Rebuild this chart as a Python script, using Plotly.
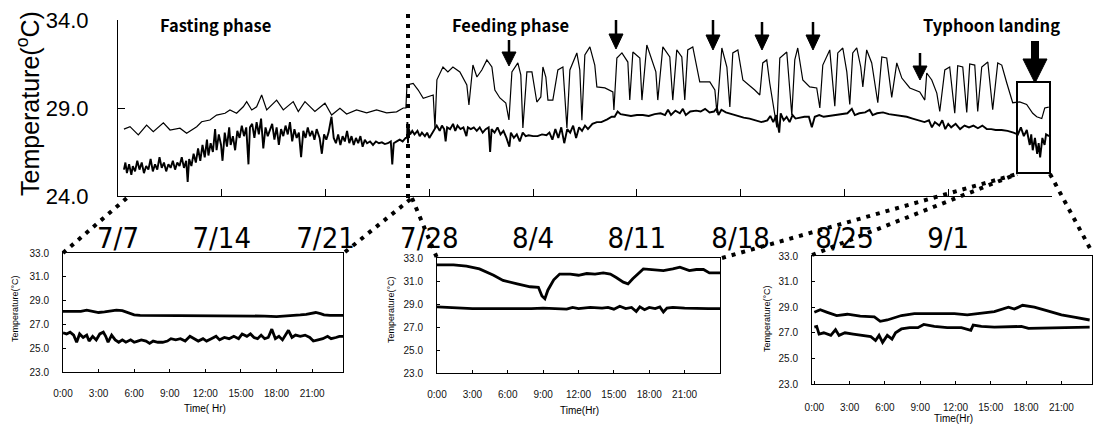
import plotly.graph_objects as go

# ---------------- DATA ----------------
# Main chart: day index (0 = 7/7), temperatures (deg C)
upper_day = [0.4, 0.81, 1.37, 1.93, 2.38, 3.06, 3.51, 4.18, 4.63, 5.31, 5.64, 6.2, 6.65, 7.22, 7.55, 8.0,
             8.45, 8.68, 9.02, 9.35, 9.69, 10.03, 10.7, 11.15, 11.82, 12.16, 12.61, 13.28, 13.96, 14.41,
             14.97, 15.42, 16.09, 16.77, 17.44, 18.12, 18.79, 19.24, 19.42,
             19.49, 19.91, 20.25, 20.59, 20.92, 21.26, 21.38, 21.51, 21.92, 22.25, 22.59, 23.06, 23.53,
             23.67, 23.94, 24.21, 24.54, 24.88, 25.22, 25.42, 25.76, 26.16, 26.37, 26.57, 26.97, 27.17,
             27.31, 27.58, 27.92, 28.25, 28.52, 28.66, 28.86, 29.0, 29.33, 29.67, 30.01, 30.28, 30.48,
             30.95, 31.15, 31.29, 31.49, 31.83, 32.16, 32.3, 32.84, 33.38, 33.45, 33.65, 33.99, 34.39,
             34.52, 34.73, 35.2, 35.34, 35.67, 36.08, 36.28, 36.41, 36.75, 37.22, 37.42, 37.69, 38.03,
             38.23, 38.43, 38.77, 39.04, 39.24, 39.92, 40.26, 40.4, 40.73, 41.07, 41.27, 41.47, 41.81,
             42.15, 42.41, 42.95, 43.29, 43.49, 43.76, 43.96, 44.44, 44.64, 45.11, 45.45, 45.65, 45.85,
             46.19, 46.66, 47.13, 47.34, 47.54, 48.01, 48.35, 48.55, 48.89, 49.16, 49.36, 49.56, 49.83,
             50.1, 50.24, 50.5, 50.84, 51.25, 51.52, 51.85, 52.19, 52.53, 52.87, 53.41, 54.08, 54.42,
             54.55, 54.89, 55.23, 55.43, 55.77, 56.1, 56.44, 56.64, 56.98, 57.25, 57.45, 57.79, 57.99,
             58.26, 58.67, 59.0, 59.34, 59.61, 59.95, 60.35, 60.82, 61.29, 61.7, 61.97, 62.31, 62.51, 62.78]
upper_temp = [27.8, 27.94, 27.47, 28.03, 27.65, 28.16, 27.75, 27.85, 27.56, 27.94, 28.22, 28.32, 28.6, 28.7,
              28.89, 28.7, 29.07, 29.36, 28.89, 29.07, 29.74, 28.89, 29.45, 28.89, 29.36, 28.8, 29.36, 28.8,
              29.27, 28.6, 28.98, 28.66, 28.89, 28.72, 28.89, 28.72, 28.78, 29.0, 29.0,
              30.31, 30.4, 30.02, 29.55, 29.64, 29.74, 27.86, 30.6, 31.33, 31.05, 31.33, 31.05, 30.31,
              29.17, 31.44, 30.76, 31.16, 31.73, 31.33, 30.02, 29.57, 29.28, 28.32, 31.05, 31.56, 30.88,
              27.86, 31.05, 31.05, 29.34, 29.63, 31.33, 30.76, 29.45, 29.45, 31.16, 31.33, 27.86, 31.16,
              32.13, 31.16, 28.3, 32.01, 32.47, 31.44, 30.2, 30.14, 29.91, 28.89, 31.84, 32.13, 31.61,
              29.45, 32.18, 31.84, 29.45, 32.58, 31.56, 31.05, 29.45, 32.47, 31.9, 29.45, 32.3, 31.9,
              29.45, 32.3, 32.47, 31.33, 30.48, 30.48, 30.02, 28.72, 32.41, 31.33, 29.06, 32.13, 32.3,
              30.59, 30.42, 30.02, 29.74, 31.56, 31.73, 30.42, 27.9, 31.84, 32.18, 28.6, 31.73, 32.41,
              30.59, 30.2, 30.14, 29.0, 31.44, 32.3, 29.1, 32.13, 32.41, 31.05, 29.2, 32.13, 32.41,
              31.33, 30.2, 32.3, 31.56, 29.3, 31.9, 31.84, 29.6, 31.56, 30.7, 30.14, 29.91, 29.45,
              30.99, 30.59, 29.85, 28.8, 31.16, 31.33, 28.7, 31.4, 31.33, 28.75, 31.5, 31.44, 28.8,
              31.33, 31.61, 28.9, 31.56, 31.44, 30.42, 29.3, 29.35, 29.2, 28.7, 28.5, 28.4, 29.0, 29.05]

lower_day = [0.4, 0.5, 0.6, 0.75, 0.9, 1.0, 1.15, 1.3, 1.45, 1.6, 1.75, 1.9, 2.05, 2.2, 2.35, 2.5, 2.65, 2.8,
             2.95, 3.1, 3.25, 3.4, 3.55, 3.7, 3.85, 4.0, 4.15, 4.3, 4.45, 4.6, 4.7, 4.8, 4.95, 5.1, 5.25,
             5.4, 5.55, 5.7, 5.85, 6.0, 6.1, 6.25, 6.4, 6.55, 6.65, 6.8, 6.95, 7.05, 7.2, 7.35, 7.5, 7.6,
             7.75, 7.9, 8.05, 8.2, 8.35, 8.5, 8.65, 8.8, 8.9, 9.05, 9.2, 9.35, 9.5, 9.65, 9.8, 9.95, 10.1,
             10.25, 10.4, 10.55, 10.7, 10.85, 11.0, 11.15, 11.3, 11.45, 11.6, 11.75, 11.9, 12.05, 12.2,
             12.35, 12.5, 12.65, 12.8, 12.95, 13.1, 13.25, 13.4, 13.6, 13.75, 13.9, 14.05, 14.2, 14.4,
             14.55, 14.7, 14.85, 15.0, 15.15, 15.3, 15.45, 15.6, 15.75, 15.9, 16.05, 16.2, 16.35, 16.5,
             16.65, 16.8, 17.0, 17.2, 17.4, 17.6, 17.8, 18.0, 18.2, 18.4, 18.5, 18.6, 18.8, 19.0, 19.2,
             19.4,
             19.5, 19.52, 19.56, 19.6, 19.7, 19.85, 20.0, 20.2, 20.35, 20.5, 20.7, 20.85, 21.0, 21.2,
             21.35, 21.5, 21.7, 21.85, 22.0, 22.1, 22.2, 22.4, 22.6, 22.75, 22.9, 23.1, 23.3, 23.5, 23.6,
             23.8, 24.0, 24.2, 24.4, 24.6, 24.8, 25.0, 25.1, 25.2, 25.4, 25.6, 25.8, 26.0, 26.2, 26.4,
             26.5, 26.7, 26.9, 27.1, 27.3, 27.5, 27.7, 28.0, 28.3, 28.6, 28.9, 29.1, 29.3, 29.5, 29.7,
             29.9, 30.1, 30.3, 30.5, 30.7, 30.9, 31.1, 31.3, 31.5, 31.7, 32.0, 32.3, 32.6, 33.0, 33.3,
             33.5, 33.7, 33.9, 34.2, 34.6, 35.0, 35.4, 35.8, 36.2, 36.6, 36.9, 37.1, 37.3, 37.6, 37.9,
             38.1, 38.3, 38.6, 39.0, 39.3, 39.6, 39.9, 40.2, 40.4, 40.5, 40.7, 41.0, 41.4, 41.8, 42.2,
             42.6, 43.0, 43.4, 43.8, 44.0, 44.2, 44.4, 44.6, 44.7, 44.9, 45.1, 45.3, 45.5, 45.7, 46.0,
             46.3, 46.6, 46.8, 47.0, 47.3, 47.6, 48.0, 48.4, 48.8, 49.2, 49.5, 49.7, 50.0, 50.4, 50.7,
             50.9, 51.2, 51.6, 52.0, 52.4, 52.8, 53.2, 53.6, 54.0, 54.4, 54.7, 54.9, 55.1, 55.4, 55.6,
             55.8, 56.0, 56.2, 56.5, 56.8, 57.1, 57.4, 57.7, 58.0, 58.3, 58.6, 58.9, 59.2, 59.6, 60.0,
             60.4, 60.7, 60.9, 61.1, 61.3, 61.5, 61.6, 61.7, 61.85, 62.0, 62.1, 62.2, 62.35, 62.5, 62.6,
             62.8]
lower_temp = [25.5, 25.9, 25.3, 25.8, 25.2, 25.7, 25.4, 26.0, 25.5, 25.9, 25.3, 25.7, 25.5, 26.1, 25.4, 25.8,
              25.5, 26.2, 25.6, 25.9, 25.4, 25.8, 25.6, 26.0, 25.5, 25.9, 25.7, 26.2, 25.6, 26.0, 24.8,
              26.1, 25.7, 26.4, 25.9, 26.7, 26.0, 26.9, 26.2, 27.2, 26.3, 27.0, 26.5, 27.8, 26.6, 27.5,
              26.9, 26.0, 27.6, 26.8, 27.9, 26.9, 27.4, 26.6, 27.7, 27.3, 28.0, 27.4, 27.9, 25.8, 27.9,
              28.1, 27.3, 28.2, 27.5, 28.4, 26.7, 27.9, 27.4, 27.7, 28.1, 27.2, 27.9, 26.9, 27.8, 27.4,
              28.0, 27.5, 28.2, 27.1, 27.8, 27.3, 27.6, 26.2, 27.7, 27.3, 27.9, 27.4, 27.7, 27.2, 27.8,
              27.3, 26.4, 27.5, 27.2, 27.6, 28.5, 27.3, 27.0, 27.5, 26.9, 27.4, 27.1, 27.7, 27.0, 27.4,
              26.9, 27.3, 27.0, 27.4, 26.8, 27.2, 27.0, 27.1, 26.9, 27.1, 27.0, 27.05, 26.95, 27.0, 27.1,
              25.8, 27.0, 27.1, 27.2, 27.1, 27.3,
              27.3, 28.2, 27.0, 27.9, 27.5, 27.7, 27.5, 27.7, 27.4, 27.6, 27.4, 27.6, 27.3, 27.6, 27.8,
              28.0, 27.7, 28.0, 27.8, 27.1, 27.9, 27.8, 28.1, 27.7, 28.0, 27.8, 27.9, 27.4, 27.9, 27.8,
              27.9, 27.7, 27.9, 27.6, 27.8, 27.9, 26.5, 27.8, 27.6, 27.9, 27.5, 27.7, 27.3, 26.8, 27.6,
              27.3, 27.5, 27.1, 27.6, 27.4, 27.45, 27.4, 27.4, 27.5, 27.45, 27.6, 27.2, 27.8, 27.3, 27.9,
              27.0, 27.8, 27.6, 28.0, 27.3, 27.9, 27.7, 28.0, 27.8, 28.1, 28.2, 28.2, 28.35, 28.5, 28.5,
              28.8, 28.65, 28.6, 28.55, 28.6, 28.6, 28.55, 28.65, 28.7, 28.6, 28.9, 28.6, 28.85, 28.7,
              28.95, 28.6, 28.8, 28.85, 28.8, 28.95, 28.75, 28.8, 29.0, 28.6, 28.9, 28.75, 28.65, 28.55,
              28.45, 28.4, 28.3, 28.2, 28.3, 28.55, 28.2, 28.6, 27.6, 28.7, 28.3, 28.5, 28.2, 28.6, 28.4,
              28.45, 28.5, 28.5, 27.9, 28.5, 28.6, 28.5, 28.55, 28.6, 28.65, 28.7, 28.95, 28.6, 28.7,
              28.75, 28.9, 28.6, 28.7, 28.75, 28.65, 28.6, 28.55, 28.5, 28.4, 28.3, 28.2, 28.3, 27.9,
              28.2, 28.0, 28.3, 27.8, 28.1, 27.9, 28.1, 27.8, 28.0, 27.9, 28.0, 27.85, 28.0, 27.8, 27.8,
              27.75, 27.75, 27.7, 27.6, 27.5, 27.9, 27.4, 27.75, 26.9, 27.5, 26.6, 27.3, 26.4, 27.0,
              26.2, 27.3, 26.9, 27.5, 27.4]

date_ticks = [0, 7, 14, 21, 28, 35, 42, 49, 56, 63]
date_labels = ["7/7", "7/14", "7/21", "7/28", "8/4", "8/11", "8/18", "8/25", "9/1", " "]

# Inset 1 (fasting day)
in1_up_h = [0, 0.5, 1, 1.5, 2, 2.5, 3, 3.5, 4, 4.5, 5, 5.5, 6, 6.5, 7, 8, 9, 10, 11, 12, 13, 14, 15, 16,
            17, 18, 19, 20, 20.5, 21, 21.3, 21.7, 22, 22.5, 23, 23.6]
in1_up_t = [28.1, 28.1, 28.15, 28.1, 28.2, 28.1, 28.0, 28.05, 28.15, 28.2, 28.15, 28.0, 27.8, 27.75, 27.75,
            27.7, 27.75, 27.7, 27.75, 27.7, 27.7, 27.75, 27.7, 27.75, 27.7, 27.65, 27.7, 27.8, 27.85,
            27.95, 28.0, 27.9, 27.8, 27.75, 27.75, 27.75]
in1_lo_h = [0, 0.3, 0.6, 0.9, 1.15, 1.4, 1.7, 2.0, 2.2, 2.5, 2.8, 3.1, 3.4, 3.6, 3.8, 4.1, 4.4, 4.7, 5.0,
            5.3, 5.7, 6.0, 6.3, 6.6, 7.0, 7.3, 7.6, 8.0, 8.4, 8.8, 9.1, 9.5, 9.9, 10.3, 10.7, 11.0, 11.4,
            11.8, 12.1, 12.5, 12.9, 13.2, 13.6, 14.0, 14.4, 14.8, 15.1, 15.5, 15.8, 16.1, 16.4, 16.7,
            17.0, 17.3, 17.6, 17.9, 18.2, 18.5, 18.8, 19.0, 19.3, 19.6, 20.0, 20.4, 20.8, 21.1, 21.5,
            21.9, 22.3, 22.6, 23.0, 23.3, 23.6]
in1_lo_t = [26.3, 26.2, 26.35, 26.1, 25.5, 26.2, 25.9, 26.1, 25.6, 26.0, 25.7, 26.2, 26.35, 26.0, 25.5,
            26.1, 25.7, 25.5, 25.7, 25.5, 25.7, 25.5, 25.6, 25.7, 25.6, 25.4, 25.6, 25.5, 25.5, 25.6,
            25.8, 25.7, 25.8, 25.6, 26.0, 25.8, 25.6, 25.8, 25.6, 25.8, 26.0, 25.7, 25.9, 25.8, 26.0,
            25.8, 26.2, 26.0, 26.2, 25.9, 25.8, 26.1, 25.8, 25.9, 26.6, 25.8, 26.0, 25.7, 26.2, 26.5,
            25.9, 26.1, 26.0, 26.1, 25.9, 25.6, 25.7, 25.8, 26.0, 25.8, 25.9, 26.0, 26.0]

# Inset 2 (feeding day)
in2_up_h = [0, 1.4, 2.5, 3.6, 4.8, 5.6, 6.8, 7.9, 8.6, 8.9, 9.15, 9.4, 9.9, 10.4, 11.3, 12.0, 12.7, 13.4,
            14.1, 14.7, 15.2, 15.8, 16.2, 16.6, 17.5, 18.3, 19.2, 20.0, 20.6, 21.4, 22.0, 22.6, 23.1, 24.0]
in2_up_t = [32.4, 32.4, 32.3, 32.05, 31.5, 31.05, 30.75, 30.5, 30.45, 29.7, 29.45, 30.2, 31.1, 31.6, 31.6,
            31.5, 31.65, 31.6, 31.7, 31.6, 31.3, 30.9, 30.75, 31.2, 32.05, 32.0, 31.9, 32.05, 32.2, 31.9,
            32.0, 32.0, 31.7, 31.7]
in2_lo_h = [0, 1, 2, 3, 4, 5, 6, 7, 8, 9, 10, 11, 11.5, 12, 13, 14, 14.5, 15, 15.5, 16, 16.5, 16.9, 17.2,
            17.6, 18.0, 18.5, 18.9, 19.2, 19.5, 20, 21, 22, 23, 24]
in2_lo_t = [28.75, 28.7, 28.6, 28.6, 28.6, 28.6, 28.55, 28.6, 28.6, 28.65, 28.6, 28.55, 28.7, 28.6, 28.7,
            28.65, 28.7, 28.55, 28.8, 28.6, 28.7, 28.35, 28.75, 28.5, 28.7, 28.6, 28.75, 28.3, 28.65, 28.7,
            28.65, 28.6, 28.6, 28.6]

# Inset 3 (typhoon day)
in3_up_h = [0, 0.5, 1.1, 1.9, 2.8, 3.9, 5.1, 5.6, 6.2, 7.4, 8.5, 10.2, 11.9, 13.0, 14.2, 15.3, 16.5, 17.0,
            17.7, 18.7, 19.9, 21.0, 22.2, 23.4]
in3_up_t = [28.6, 28.8, 28.6, 28.35, 28.45, 28.3, 28.25, 27.9, 28.0, 28.35, 28.5, 28.5, 28.5, 28.4, 28.5,
            28.65, 29.0, 28.85, 29.15, 29.0, 28.7, 28.4, 28.2, 28.0]
in3_lo_h = [0, 0.2, 0.4, 0.8, 1.4, 1.8, 2.1, 2.6, 3.3, 4.2, 4.8, 5.2, 5.5, 5.8, 6.2, 6.6, 6.9, 7.4, 8.1,
            8.8, 9.3, 10.2, 11.3, 12.5, 13.3, 13.5, 14.2, 15.3, 17.6, 18.2, 19.9, 23.4]
in3_lo_t = [27.45, 27.5, 26.9, 27.0, 26.8, 27.25, 26.8, 27.0, 26.9, 26.8, 26.7, 26.4, 26.8, 26.25, 26.8,
            26.5, 27.0, 27.3, 27.4, 27.4, 27.65, 27.5, 27.4, 27.4, 27.2, 27.6, 27.5, 27.45, 27.5, 27.35,
            27.4, 27.45]

hour_ticks = [0, 3, 6, 9, 12, 15, 18, 21]
hour_labels = ["0:00", "3:00", "6:00", "9:00", "12:00", "15:00", "18:00", "21:00"]
inset_temp_ticks = [23, 25, 27, 29, 31, 33]
inset_temp_labels = ["23.0", "25.0", "27.0", "29.0", "31.0", "33.0"]

# ---------------- FIGURE ----------------
W, H = 1093, 427


def fx(x):
    return x / W


def fy(y):
    return 1 - y / H


SANS = "Liberation Sans, Arial, sans-serif"
NARROW = "Liberation Sans Narrow, Arial Narrow, DejaVu Sans Condensed, Liberation Sans, sans-serif"
GOTHIC = "Noto Sans CJK JP, Noto Sans, sans-serif"

fig = go.Figure()
fig.add_trace(go.Scatter(x=upper_day, y=upper_temp, mode="lines",
                         line=dict(color="black", width=1.2), xaxis="x", yaxis="y"))
fig.add_trace(go.Scatter(x=lower_day, y=lower_temp, mode="lines",
                         line=dict(color="black", width=1.9), xaxis="x", yaxis="y"))
for h, t, ax in [(in1_up_h, in1_up_t, 2), (in1_lo_h, in1_lo_t, 2),
                 (in2_up_h, in2_up_t, 3), (in2_lo_h, in2_lo_t, 3),
                 (in3_up_h, in3_up_t, 4), (in3_lo_h, in3_lo_t, 4)]:
    fig.add_trace(go.Scatter(x=h, y=t, mode="lines", line=dict(color="black", width=2.8),
                             xaxis="x%d" % ax, yaxis="y%d" % ax))

common = dict(showgrid=False, zeroline=False, showline=True, linecolor="black",
              tickcolor="black", fixedrange=True, automargin=False)

layout = dict(
    width=W, height=H, autosize=False, showlegend=False,
    margin=dict(l=0, r=0, t=0, b=0, pad=0),
    paper_bgcolor="white", plot_bgcolor="white",
    xaxis=dict(domain=[fx(118), fx(1052)], range=[0, 63], anchor="y",
               tickvals=date_ticks, ticktext=date_labels, ticks="inside", ticklen=7,
               linewidth=1.2, tickfont=dict(family=NARROW, size=29, color="black"),
               ticklabelstandoff=16, **common),
    yaxis=dict(domain=[fy(196), fy(20)], range=[24, 34], anchor="x",
               tickvals=[24, 29, 34], ticktext=["24.0", "29.0", "34.0"], ticks="inside", ticklen=7,
               linewidth=1.2, tickfont=dict(family=SANS, size=22, color="black"),
               ticklabelstandoff=24, **common),
)

insets = [
    (2, 63, 343, 253, 372, [0, 23.6], 12),
    (3, 437, 720, 258, 373, [0, 24.0], 12),
    (4, 812, 1092, 256, 384, [-0.2, 23.6], 14),
]
for n, x0, x1, y0, y1, xr, stand in insets:
    layout["xaxis%d" % n] = dict(domain=[fx(x0), fx(x1)], range=xr, anchor="y%d" % n,
                                 tickvals=hour_ticks, ticktext=hour_labels, ticks="inside", ticklen=3,
                                 mirror=True, linewidth=1,
                                 tickfont=dict(family=SANS, size=10, color="#111"),
                                 ticklabelstandoff=stand, **common)
    layout["yaxis%d" % n] = dict(domain=[fy(y1), fy(y0)], range=[23, 33], anchor="x%d" % n,
                                 tickvals=inset_temp_ticks, ticktext=inset_temp_labels, ticks="inside",
                                 ticklen=3, mirror=True, linewidth=1,
                                 tickfont=dict(family=SANS, size=10, color="#111"),
                                 ticklabelstandoff=11, **common)

fig.update_layout(**layout)

shapes = []
DOT = dict(color="black", width=4, dash="4px,6px")


def dline(xa, ya, xb, yb, line=DOT):
    shapes.append(dict(type="line", xref="paper", yref="paper",
                       x0=fx(xa), y0=fy(ya), x1=fx(xb), y1=fy(yb), line=line))


# phase separator and zoom connectors
dline(408, 14, 408, 198)
dline(63, 253, 128, 197)
dline(345, 252, 412, 198)
dline(412, 198, 437, 258)
dline(722, 258, 1017, 174)
dline(812, 255, 1017, 174)
dline(1050, 174, 1092, 252)

# typhoon box
shapes.append(dict(type="rect", xref="paper", yref="paper", x0=fx(1017), x1=fx(1050),
                   y0=fy(173), y1=fy(82), line=dict(color="black", width=2)))


def arrow(x, ytop, ytip, shaft_w, head_w, head_h):
    ybase = ytip - head_h
    shapes.append(dict(type="line", xref="paper", yref="paper", x0=fx(x), x1=fx(x),
                       y0=fy(ytop), y1=fy(ybase + 1), line=dict(color="black", width=shaft_w)))
    path = "M %f,%f L %f,%f L %f,%f Z" % (fx(x - head_w / 2), fy(ybase), fx(x + head_w / 2), fy(ybase),
                                         fx(x), fy(ytip))
    shapes.append(dict(type="path", xref="paper", yref="paper", path=path,
                       fillcolor="black", line=dict(color="black", width=1)))


arrow(509, 40, 66, 2.5, 14, 14)
arrow(616, 20, 49, 2.5, 14, 15)
arrow(713, 20, 50, 2.5, 14, 15)
arrow(762, 22, 50, 2.5, 14, 15)
arrow(813, 22, 50, 2.5, 14, 15)
arrow(920, 53, 80, 2.5, 14, 14)
arrow(1035, 41, 83, 8, 24, 24)

annotations = []


def text(x, y, s, size, family, angle=0, xanchor="center", weight="normal"):
    annotations.append(dict(x=fx(x), y=fy(y), xref="paper", yref="paper", text=s, showarrow=False,
                            textangle=angle, xanchor=xanchor, yanchor="middle",
                            font=dict(family=family, size=size, color="black", weight=weight)))


text(158, 25, "Fasting phase", 16.5, GOTHIC, xanchor="left", weight="bold")
text(450, 25, "Feeding phase", 16.5, GOTHIC, xanchor="left", weight="bold")
text(921, 25, "Typhoon landing", 16.5, GOTHIC, xanchor="left", weight="bold")
text(28, 104, "Temperature(<sup>o</sup>C)", 25, SANS, angle=-90)
# inset titles
text(15, 309, "Temperature(°C)", 9, SANS, angle=-90)
text(391, 310, "Temperature(°C)", 9, SANS, angle=-90)
text(767, 319, "Temperature(°C)", 9, SANS, angle=-90)
text(205, 408, "Time( Hr)", 10, SANS)
text(579, 410, "Time(Hr)", 10, SANS)
text(953, 418, "Time(Hr)", 10, SANS)

fig.update_layout(shapes=shapes, annotations=annotations)

fig.write_html("out.html", config={"displayModeBar": False},
               post_script="document.body.style.margin='0';document.body.style.overflow='hidden';")
